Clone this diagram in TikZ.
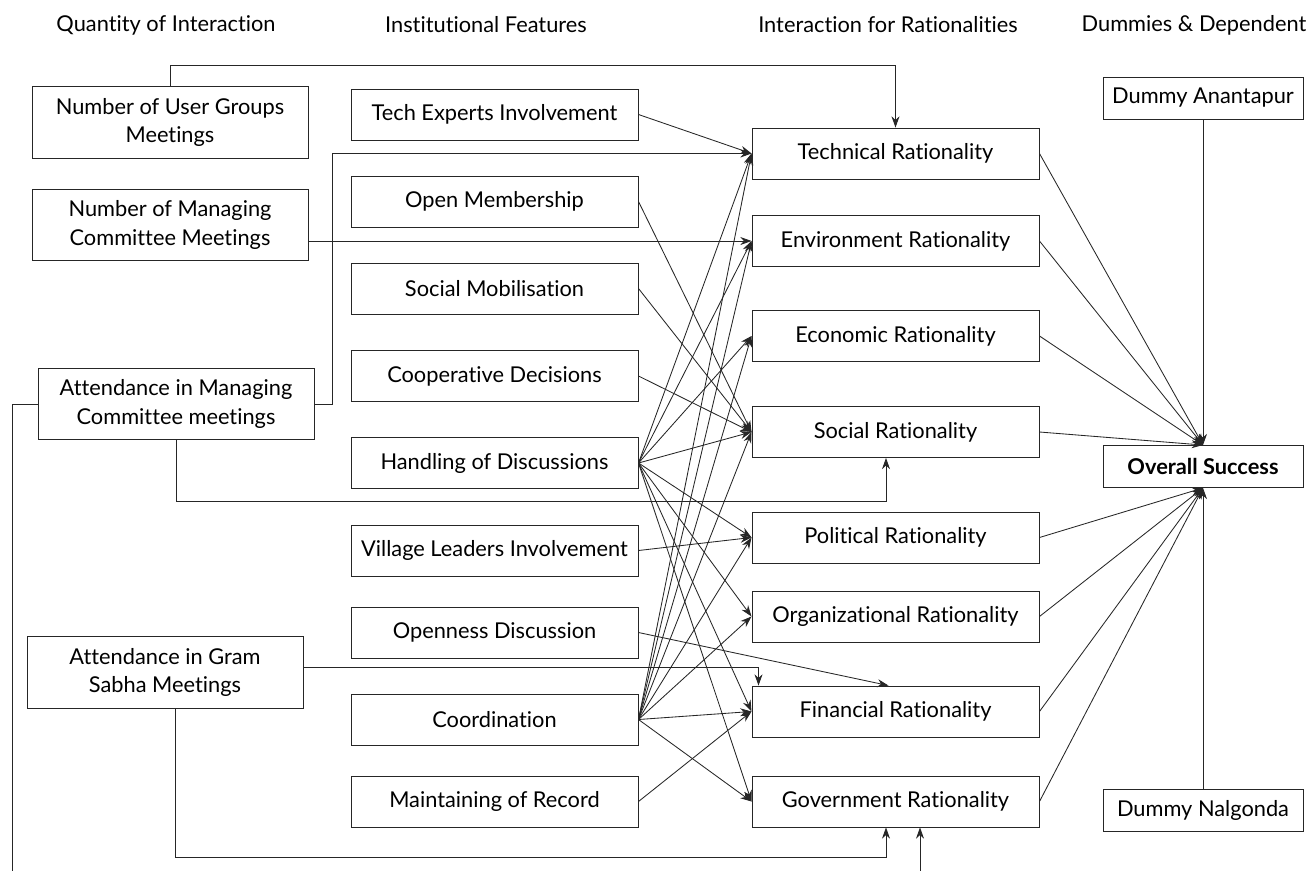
\documentclass[tikz,border=0pt]{standalone}
\usepackage{fontspec}
\setmainfont{Lato}[Ligatures=NoCommon]
\usetikzlibrary{calc,arrows.meta}

\begin{document}
\begin{tikzpicture}[x=0.025cm,y=-0.025cm,
    font=\fontsize{15.5}{20.5}\selectfont,
    box/.style={draw=black!85,line width=0.65pt,align=center,inner sep=0pt},
    lbox/.style={box,minimum width=6.9cm,minimum height=1.78cm},
    fbox/.style={box,minimum width=7.175cm,minimum height=1.275cm},
    dbox/.style={box,minimum width=5cm,minimum height=1.05cm},
    arr/.style={-{Stealth[length=2.8mm,width=2mm]},line width=0.6pt,draw=black!85}]
  \path[use as bounding box,fill=white] (0,0) rectangle (1311,870);
  \clip (0,0) rectangle (1311,870);
  % column heads
  \node (hq) at (166,25) {Quantity of Interaction};
  \node (hi) at (486,25) {Institutional Features};
  \node (hr) at (888,25) {Interaction for Rationalities};
  \node (hd) at (1194,25) {Dummies \& Dependent};
  % quantity of interaction
  \node[lbox] (nug) at (170,122.5) {Number of User Groups\\Meetings};
  \node[lbox] (nmc) at (170,225) {Number of Managing\\Committee Meetings};
  \node[lbox] (amc) at (176,404) {Attendance in Managing\\Committee meetings};
  \node[lbox] (ags) at (165,672.5) {Attendance in Gram\\Sabha Meetings};
  % institutional features
  \node[fbox] (tech) at (494.5,114.5) {Tech Experts Involvement};
  \node[fbox] (open) at (494.5,201.5) {Open Membership};
  \node[fbox] (smob) at (494.5,288.5) {Social Mobilisation};
  \node[fbox] (coop) at (494.5,376) {Cooperative Decisions};
  \node[fbox] (hand) at (494.5,463) {Handling of Discussions};
  \node[fbox] (vill) at (494.5,550.5) {Village Leaders Involvement};
  \node[fbox] (openn) at (494.5,632.5) {Openness Discussion};
  \node[fbox] (coord) at (494.5,719.5) {Coordination};
  \node[fbox] (rec) at (494.5,801.5) {Maintaining of Record};
  % rationalities
  \node[fbox] (techr) at (895.5,153.5) {Technical Rationality};
  \node[fbox] (envr) at (895.5,241) {Environment Rationality};
  \node[fbox] (ecor) at (895.5,336) {Economic Rationality};
  \node[fbox] (socr) at (895.5,432) {Social Rationality};
  \node[fbox] (polr) at (895.5,537.5) {Political Rationality};
  \node[fbox] (orgr) at (895.5,616.5) {Organizational Rationality};
  \node[fbox] (finr) at (895.5,711.5) {Financial Rationality};
  \node[fbox] (govr) at (895.5,801.5) {Government Rationality};
  % dummies and dependent
  \node[dbox] (dana) at (1203,98) {Dummy Anantapur};
  \node[dbox] (succ) at (1203,466.5) {\textbf{Overall Success}};
  \node[dbox] (dnal) at (1203,810.5) {Dummy Nalgonda};

  % features to rationalities
  \draw[arr] (tech.east) -- (techr.west);
  \foreach \r in {techr,envr,ecor,socr,polr,orgr,finr,govr}{
    \draw[arr] (hand.east) -- (\r.west);
    \draw[arr] (coord.east) -- (\r.west);
  }
  \foreach \s in {open,smob,coop}
    \draw[arr] (\s.east) -- (socr.west);
  \draw[arr] (vill.east) -- (polr.west);
  \draw[arr] (openn.east) -- ($(finr.north)+(-7,0)$);
  \draw[arr] (rec.east) -- (finr.west);

  % quantity to rationalities
  \draw[arr] (nug.north) -- ++(0,-21) -| (techr.north);
  \draw[arr] (nmc.east |- envr.west) -- (envr.west);
  \draw[arr] (amc.east) -- ++(18,0) |- (techr.west);
  \draw[arr] (amc.south) -- ++(0,61) -| ($(socr.south)+(-9.5,0)$);
  \draw[arr] (amc.west) -- ++(-25,0) -- ++(0,500) -| ($(govr.south)+(24.5,0)$);
  \draw[arr] ($(ags.east)+(0,-5)$) -| ($(finr.north west)+(7,0)$);
  \draw[arr] ($(ags.south)+(10,0)$) -- ++(0,149) -| ($(govr.south)+(-9.5,0)$);

  % rationalities to success
  \foreach \r in {techr,envr,ecor,socr}
    \draw[arr] (\r.east) -- (succ.north);
  \foreach \r in {polr,orgr,finr,govr}
    \draw[arr] (\r.east) -- (succ.south);
  \draw[arr] (dana.south) -- (succ.north);
  \draw[arr] (dnal.north) -- (succ.south);
\end{tikzpicture}
\end{document}
